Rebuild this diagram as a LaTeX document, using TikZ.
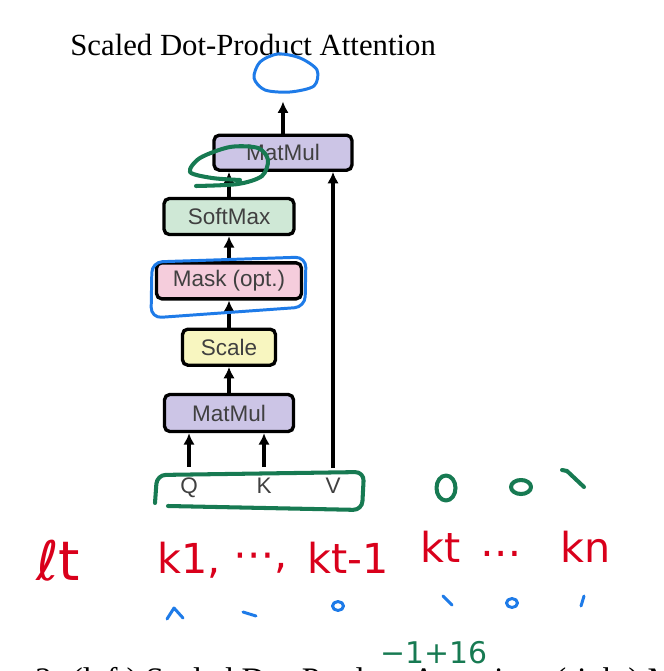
\documentclass[tikz,border=0pt]{standalone}
\usepackage{fontspec}
\setmainfont{Liberation Serif}
\setsansfont{Liberation Sans}
\newfontfamily\handfont{DejaVu Sans}
\usetikzlibrary{positioning,arrows.meta}

\definecolor{matmulcol}{HTML}{CCC5E6}
\definecolor{softcol}{HTML}{CFE8D6}
\definecolor{maskcol}{HTML}{F5CDDC}
\definecolor{scalecol}{HTML}{F8F6C0}
\definecolor{handblue}{HTML}{1E7BE8}
\definecolor{handgreen}{HTML}{177A52}
\definecolor{handred}{HTML}{D9001B}

\tikzset{
opbox/.style={
  draw=black,
  line width=1.9pt,
  rounded corners=3pt,
  minimum height=0.72cm,
  inner sep=0pt,
  text=black!75,
  font=\sffamily\fontsize{12.8}{15}\selectfont
  },
inlabel/.style={
  inner sep=0pt,
  anchor=base,
  text=black!75,
  font=\sffamily\fontsize{12.8}{15}\selectfont
  },
flow/.style={line width=1.8pt,->},
bluepen/.style={draw=handblue,line width=1.7pt,line cap=round,line join=round},
greenpen/.style={draw=handgreen,line width=2.3pt,line cap=round,line join=round},
redhand/.style={
  anchor=base west,
  inner sep=0pt,
  text=handred,
  font=\handfont\fontsize{23.5}{28}\selectfont
  }
}

\begin{document}
\begin{tikzpicture}[x=0.02cm,y=-0.02cm,>={Latex[length=6.5pt,width=6.5pt]}]
\useasboundingbox (0,0) rectangle (663,671);
\clip (0,0) rectangle (663,671);

\node[anchor=base west,inner sep=0pt,font=\fontsize{17.5}{21}\selectfont]
  (title) at (70,56) {Scaled Dot-Product Attention};

\node[opbox,fill=matmulcol,minimum width=2.58cm,minimum height=0.74cm]
  (matmul1) at (229,413) {MatMul};
\node[opbox,fill=scalecol,minimum width=1.86cm,above=0.52cm of matmul1]
  (scale) {Scale};
\node[opbox,fill=maskcol,minimum width=2.9cm,above=0.54cm of scale]
  (mask) {Mask (opt.)};
\node[opbox,fill=softcol,minimum width=2.6cm,above=0.5cm of mask]
  (softmax) {SoftMax};
\node[opbox,fill=matmulcol,minimum width=2.76cm,minimum height=0.7cm,
  above=0.5cm of softmax,xshift=1.08cm]
  (matmul2) {MatMul};

\node[inlabel] (q) at (189,493) {Q};
\node[inlabel] (k) at (264,493) {K};
\node[inlabel] (v) at (333,493) {V};

\begin{scope}
\coordinate(start) at([yshift=0.2cm]q.north);
\draw[flow] (start) -- (start |- matmul1.south);
\end{scope}

\begin{scope}
\coordinate(start) at([yshift=0.2cm]k.north);
\draw[flow] (start) -- (start |- matmul1.south);
\end{scope}

\begin{scope}
\coordinate(start) at([yshift=0.18cm]v.north);
\draw[flow] (start) -- (start |- matmul2.south);
\end{scope}

\draw[flow] (matmul1) -- (scale);
\draw[flow] (scale) -- (mask);
\draw[flow] (mask) -- (softmax);
\draw[flow] (softmax.north) -- (softmax.north |- matmul2.south);

\coordinate(output) at([yshift=0.64cm]matmul2.north);
\draw[flow] (matmul2) -- (output);

\draw[bluepen] plot[smooth cycle] coordinates
  {(254,78) (260,62) (278,54) (300,58) (317,70) (314,86) (290,92) (265,90)};
\draw[greenpen] plot[smooth] coordinates
  {(240,180) (212,178) (190,172) (200,158) (230,147) (258,148) (268,160)
   (262,176) (238,184) (196,186)};
\draw[bluepen,rounded corners=6pt]
  (152,262) -- (306,257) -- (305,307) -- (151,318) -- cycle;
\draw[greenpen,rounded corners=5pt]
  (168,506) -- (362,510) -- (364,472) -- (157,475) -- (155,503);

\draw[greenpen] (446,488) ellipse [x radius=0.19cm,y radius=0.25cm];
\draw[greenpen] (521,487) ellipse [x radius=0.2cm,y radius=0.14cm];
\draw[greenpen] (562,470) -- (567,471) -- (584,487);

\node[redhand,font=\handfont\fontsize{31}{36}\selectfont] (lt) at (36,580) {ℓt};
\node[redhand] (kone) at (157,573) {k1,};
\node[redhand] (dotsa) at (233,568) {⋯,};
\node[redhand] (ktmone) at (307,573) {kt-1};
\node[redhand] (kt) at (420,562) {kt};
\node[redhand] (dotsb) at (480,556) {…};
\node[redhand] (kn) at (560,562) {kn};

\draw[bluepen] (167,619) -- (174,608) -- (183,618);
\draw[bluepen] (243,612) -- (256,616);
\draw[bluepen] (338,606) ellipse [x radius=0.11cm,y radius=0.09cm];
\draw[bluepen] (443,596) -- (452,605);
\draw[bluepen] (512,603) ellipse [x radius=0.11cm,y radius=0.09cm];
\draw[bluepen] (584,596) -- (581,606);

\node[anchor=base west,inner sep=0pt,text=handgreen,
  font=\handfont\fontsize{17}{20}\selectfont]
  (offset) at (380,663) {−1+16};

\node[anchor=base west,inner sep=0pt,font=\fontsize{18.7}{22}\selectfont]
  (caption) at (35,690)
  {2: (left) Scaled Dot-Product Attention. (right) Multi-Head Attention consists};
\end{tikzpicture}
\end{document}
